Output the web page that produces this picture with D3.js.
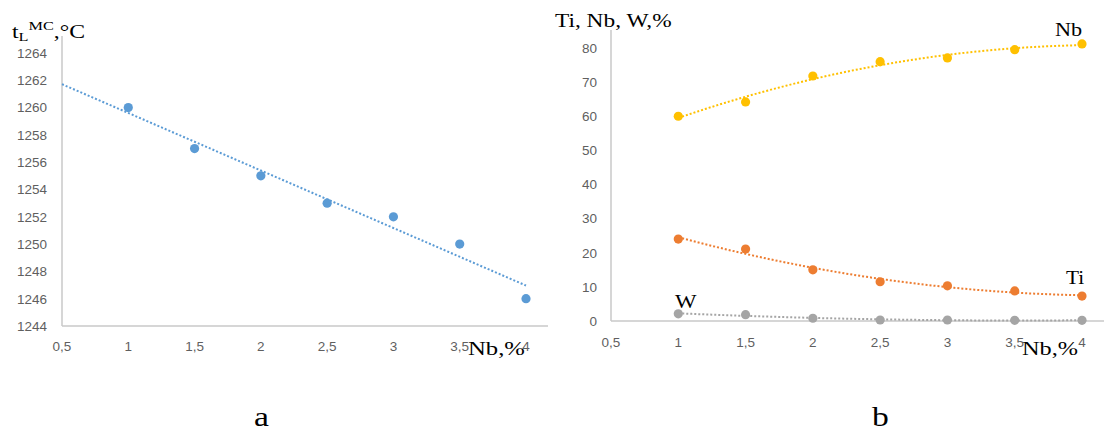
<!DOCTYPE html>
<html>
<head>
<meta charset="utf-8">
<script src="https://cdn.jsdelivr.net/npm/d3@7"></script>
<style>
  body { margin: 0; background: #fff; }
  svg { display: block; }
</style>
</head>
<body>
<div id="chart"></div>
<script>
// Nb content, % (same for both panels)
var nbContent = [1, 1.5, 2, 2.5, 3, 3.5, 4];

// panel a: liquidus temperature, °C
var tLiquidus = [1260, 1257, 1255, 1253, 1252, 1250, 1246];

// panel b: phase composition, %
var nbPhase = [60, 64.2, 71.8, 76, 77.1, 79.5, 81.2];
var tiPhase = [24, 21.1, 15, 11.5, 10.3, 8.8, 7.3];
var wPhase  = [2.1, 1.85, 0.8, 0.3, 0.3, 0.2, 0.2];

var xTicks  = [0.5, 1, 1.5, 2, 2.5, 3, 3.5, 4];
var yTicksA = [1244, 1246, 1248, 1250, 1252, 1254, 1256, 1258, 1260, 1262, 1264];
var yTicksB = [0, 10, 20, 30, 40, 50, 60, 70, 80];

var width = 1104, height = 432;
var serif = "'Liberation Serif', 'DejaVu Serif', serif";
var sans = "'Liberation Sans', Arial, sans-serif";
var commaFmt = function(d) { return String(d).replace(".", ","); };

var svg = d3.select("#chart").append("svg")
    .attr("width", width)
    .attr("height", height);

// least squares polynomial fit (order 1 or 2)
function polyFit(xs, ys, order) {
  var n = order + 1, A = [], b = [];
  for (var i = 0; i < n; i++) {
    A.push([]);
    for (var j = 0; j < n; j++) A[i].push(d3.sum(xs, function(x) { return Math.pow(x, i + j); }));
    b.push(d3.sum(xs, function(x, k) { return ys[k] * Math.pow(x, i); }));
  }
  // gaussian elimination
  for (var c = 0; c < n; c++) {
    for (var r = c + 1; r < n; r++) {
      var f = A[r][c] / A[c][c];
      for (var k = c; k < n; k++) A[r][k] -= f * A[c][k];
      b[r] -= f * b[c];
    }
  }
  var coef = new Array(n);
  for (var r2 = n - 1; r2 >= 0; r2--) {
    var s = b[r2];
    for (var k2 = r2 + 1; k2 < n; k2++) s -= A[r2][k2] * coef[k2];
    coef[r2] = s / A[r2][r2];
  }
  return function(x) { return d3.sum(coef, function(c, p) { return c * Math.pow(x, p); }); };
}

function serifLabel(g, x, y, size, sx, txt) {
  return g.append("text")
      .attr("transform", "translate(" + x + "," + y + ") scale(" + sx + ",1)")
      .attr("font-family", serif)
      .attr("font-size", size)
      .attr("fill", "#000")
      .text(txt);
}

function drawPanel(opt) {
  var g = svg.append("g");
  var x = d3.scaleLinear().domain([0.5, 4]).range(opt.xRange);
  var y = d3.scaleLinear().domain(opt.yDomain).range(opt.yRange);

  // axis lines
  g.append("line")
      .attr("x1", x(0.5)).attr("x2", opt.xEnd)
      .attr("y1", y(opt.yDomain[0])).attr("y2", y(opt.yDomain[0]))
      .attr("stroke", "#c9c9c9").attr("stroke-width", 1.5);
  g.append("line")
      .attr("x1", x(0.5)).attr("x2", x(0.5))
      .attr("y1", y(opt.yDomain[0])).attr("y2", opt.yTop)
      .attr("stroke", "#c9c9c9").attr("stroke-width", 1.5);

  // tick labels
  g.selectAll(".ylab").data(opt.yTicks).enter().append("text")
      .attr("x", opt.yLabelX)
      .attr("y", function(d) { return y(d); })
      .attr("dy", "0.36em")
      .attr("text-anchor", "end")
      .attr("font-family", sans)
      .attr("font-size", 13.5)
      .attr("fill", "#5f5f5f")
      .text(function(d) { return d; });

  g.selectAll(".xlab").data(xTicks).enter().append("text")
      .attr("x", function(d) { return x(d); })
      .attr("y", opt.xLabelY)
      .attr("text-anchor", "middle")
      .attr("font-family", sans)
      .attr("font-size", 13.5)
      .attr("fill", "#5f5f5f")
      .text(commaFmt);

  opt.series.forEach(function(s) {
    var fit = polyFit(nbContent, s.values, s.order);
    var pts = d3.range(0, 61).map(function(i) {
      var xv = s.from + (4 - s.from) * i / 60;
      return [x(xv), y(fit(xv))];
    });
    g.append("path")
        .attr("d", d3.line()(pts))
        .attr("fill", "none")
        .attr("stroke", s.color)
        .attr("stroke-width", 2)
        .attr("stroke-dasharray", "2,2");

    g.selectAll(null).data(s.values).enter().append("circle")
        .attr("cx", function(d, i) { return x(nbContent[i]); })
        .attr("cy", function(d) { return y(d); })
        .attr("r", 4.6)
        .attr("fill", s.color);
  });

  return g;
}

var ga = drawPanel({
  xRange: [62, 526], xEnd: 548,
  yDomain: [1244, 1264], yRange: [326, 53], yTop: 36,
  yTicks: yTicksA, yLabelX: 47, xLabelY: 351,
  series: [{ values: tLiquidus, color: "#5b9bd5", order: 1, from: 0.5 }]
});

var gb = drawPanel({
  xRange: [611, 1082], xEnd: 1104,
  yDomain: [0, 80], yRange: [321, 48], yTop: 30,
  yTicks: yTicksB, yLabelX: 597, xLabelY: 347,
  series: [
    { values: nbPhase, color: "#ffc000", order: 2, from: 1 },
    { values: tiPhase, color: "#ed7d31", order: 2, from: 1 },
    { values: wPhase,  color: "#a5a5a5", order: 2, from: 1 }
  ]
});

// panel a title: t_L^MC, °C
var ta = ga.append("text")
    .attr("transform", "translate(12,38) scale(1.25,1)")
    .attr("font-family", serif)
    .attr("font-size", 19)
    .attr("fill", "#000");
ta.append("tspan").text("t");
ta.append("tspan").attr("font-size", 13).attr("dy", 3).text("L");
ta.append("tspan").attr("font-size", 13).attr("dy", -11).text("MC");
ta.append("tspan").attr("dy", 8).text(",°C");

serifLabel(ga, 468, 355, 19, 1.3, "Nb,%");

serifLabel(gb, 555, 27, 19, 1.23, "Ti, Nb, W,%");
serifLabel(gb, 1022, 355, 19, 1.28, "Nb,%");
serifLabel(gb, 1055, 36, 19, 1.17, "Nb");
serifLabel(gb, 1066, 284, 19, 1.12, "Ti");
serifLabel(gb, 675, 308, 19, 1.2, "W");

serifLabel(svg, 254, 426, 28, 1.2, "a");
serifLabel(svg, 872, 426, 28, 1.2, "b");
</script>
</body>
</html>
